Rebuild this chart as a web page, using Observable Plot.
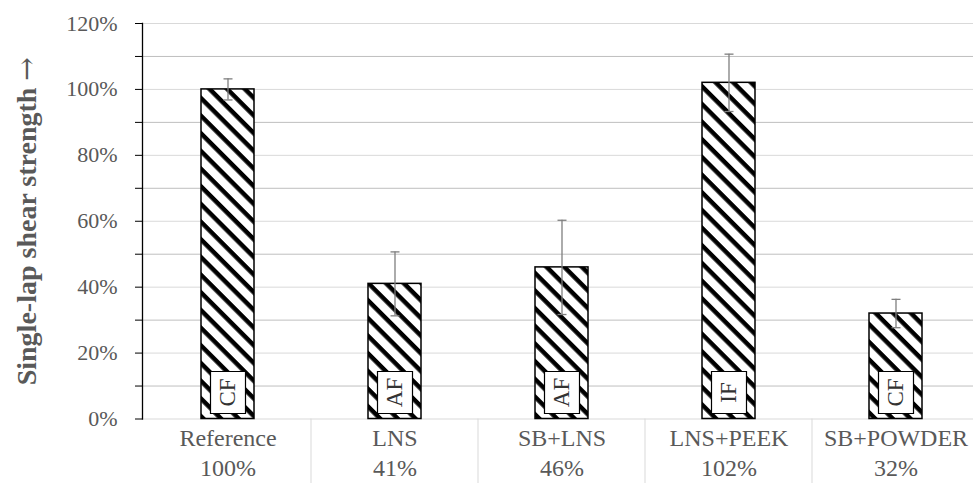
<!DOCTYPE html>
<html><head><meta charset="utf-8">
<script src="https://cdn.jsdelivr.net/npm/d3@7"></script>
<script src="https://cdn.jsdelivr.net/npm/@observablehq/plot@0.6"></script>
<style>
html,body{margin:0;padding:0;background:#fff;overflow:hidden}
</style></head><body><div id="chart"></div>
<script>
const categories = ["Reference", "LNS", "SB+LNS", "LNS+PEEK", "SB+POWDER"];
const values = [100, 41, 46, 102, 32];
const errors = [3.2, 9.7, 14.3, 8.7, 4.3];
const failureModes = ["CF", "AF", "AF", "IF", "CF"];
const valueLabels = ["100%", "41%", "46%", "102%", "32%"];
const majorTicks = [0, 20, 40, 60, 80, 100, 120];
const minorTicks = [10, 30, 50, 70, 90, 110];
const yLabelText = "Single-lap shear strength ";
const yLabelArrow = "\u2192";

const data = categories.map((c, i) => ({
  category: c, value: values[i],
  lo: values[i] - errors[i], hi: values[i] + errors[i],
  mode: failureModes[i], label: valueLabels[i]
}));

const capSymbol = {draw(ctx, size) { const r = Math.sqrt(size / Math.PI); ctx.moveTo(-r, 0); ctx.lineTo(r, 0); }};
const boxSymbol = {draw(ctx, size) { ctx.rect(-17.5, -21, 35, 42); }};
const serif = "'Liberation Serif', 'Times New Roman', serif";

const svg = Plot.plot({
  width: 973, height: 483,
  marginLeft: 142, marginRight: 0, marginTop: 23, marginBottom: 64.5,
  x: {domain: categories, range: [142, 980], paddingInner: 0.684, paddingOuter: 0.342, align: 0.5, axis: null},
  y: {domain: [0, 120], axis: null},
  style: {fontFamily: serif, background: "white", overflow: "visible"},
  marks: [
    Plot.ruleY(minorTicks, {stroke: "#bfbfbf", strokeWidth: 1}),
    Plot.ruleY(majorTicks, {stroke: "#d9d9d9", strokeWidth: 1}),
    Plot.barY(data, {x: "category", y: "value", fill: "url(#hatch)", stroke: "black", strokeWidth: 1.5}),
    Plot.ruleX(data, {x: "category", y1: "lo", y2: "hi", stroke: "#7f7f7f", strokeWidth: 1.3}),
    Plot.dot(data, {x: "category", y: "hi", symbol: capSymbol, r: 4.5, stroke: "#7f7f7f", strokeWidth: 1.3, fill: "none"}),
    Plot.dot(data, {x: "category", y: "lo", symbol: capSymbol, r: 4.5, stroke: "#7f7f7f", strokeWidth: 1.3, fill: "none"}),
    Plot.dot(data, {x: "category", y: () => 0, dy: -26.5, symbol: boxSymbol, r: 5, fill: "white", stroke: "black", strokeWidth: 1.2}),
    Plot.text(data, {x: "category", y: () => 0, dy: -26.5, text: "mode", rotate: -90, fontSize: 23, fill: "#333"}),
    Plot.frame({anchor: "left", stroke: "black", strokeWidth: 1.3}),
    Plot.axisY({ticks: majorTicks, tickSize: 7, tickPadding: 18, tickFormat: d => d + "%", fontSize: 22, fill: "#595959", stroke: "black", label: null}),
    Plot.axisY({ticks: minorTicks, tickSize: 7, tickFormat: () => "", stroke: "black", label: null}),
    Plot.axisX({tickSize: 0, tickPadding: 10, fontSize: 24, fill: "#595959", label: null}),
    Plot.axisX({tickSize: 0, tickPadding: 40, fontSize: 24, fill: "#595959", label: null,
      tickFormat: d => valueLabels[categories.indexOf(d)]}),
    Plot.text([yLabelText + yLabelArrow], {frameAnchor: "left", dx: -115.5, dy: 0, rotate: -90, textAnchor: "middle",
      fontSize: 28, fontWeight: "bold", fill: "#595959", className: "ylabel"})
  ]
});

const root = d3.select(svg);

// arrow glyph in a font that has a full-size arrow
root.selectAll(".ylabel text").each(function() {
  const t = d3.select(this);
  t.text(null);
  t.append("tspan").text(yLabelText);
  t.append("tspan").attr("font-family", "'DejaVu Serif'").attr("font-weight", "normal").text(yLabelArrow);
});

// hatch pattern
const defs = root.insert("defs", ":first-child");
const pat = defs.append("pattern").attr("id", "hatch")
  .attr("patternUnits", "userSpaceOnUse").attr("width", 12.5).attr("height", 12.5)
  .attr("patternTransform", "rotate(45)");
pat.append("rect").attr("width", 12.5).attr("height", 12.5).attr("fill", "white");
pat.append("rect").attr("width", 12.5).attr("height", 4.5).attr("fill", "black");

// category dividers below the axis, from the band scale
const xs = svg.scale("x"), ys = svg.scale("y");
const gap = (xs.step - xs.bandwidth) / 2;
root.append("g").selectAll("line").data(categories.slice(1)).join("line")
  .attr("x1", d => xs.apply(d) - gap).attr("x2", d => xs.apply(d) - gap)
  .attr("y1", ys.apply(0)).attr("y2", 483)
  .attr("stroke", "#d9d9d9");

document.getElementById("chart").appendChild(svg);
</script>
</body></html>
